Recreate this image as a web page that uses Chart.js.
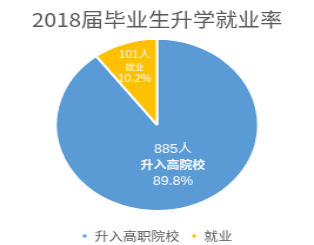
<!DOCTYPE html>
<html>
<head>
<meta charset="utf-8">
<script src="https://cdn.jsdelivr.net/npm/chart.js@4/dist/chart.umd.min.js"></script>
<style>
    html, body { margin: 0; padding: 0; background: #fff; overflow: hidden; }
    /* the source picture is stretched sideways, so the chart is drawn narrow and scaled */
    #wrap { width: 267px; height: 245px; transform: scaleX(1.176); transform-origin: 0 0; }
</style>
</head>
<body>
<div id="wrap"><canvas id="myChart"></canvas></div>
<script>
const categories = ['升入高职院校', '就业'];
const sliceNames = ['升入高院校', '就业'];
const counts = [885, 101];
const colors = ['#5B9BD5', '#FFC000'];

const total = counts.reduce(function (a, b) { return a + b; }, 0);

// label inside each slice: count, name, percent
const sliceLabels = {
    id: 'sliceLabels',
    afterDatasetsDraw: function (chart) {
        let ctx = chart.ctx;
        let meta = chart.getDatasetMeta(0);
        let dist = [0.5, 0.7];
        let sizes = [[12, 11, 12], [10, 8, 10]];
        let gap = [16, 12];
        meta.data.forEach(function (arc, i) {
            let p = arc.getProps(['x', 'y', 'startAngle', 'endAngle', 'outerRadius'], true);
            let mid = (p.startAngle + p.endAngle) / 2;
            let cx = p.x + Math.cos(mid) * p.outerRadius * dist[i];
            let cy = p.y + Math.sin(mid) * p.outerRadius * dist[i];
            let lines = [
                counts[i] + '人',
                sliceNames[i],
                (counts[i] / total * 100).toFixed(1) + '%'
            ];
            ctx.save();
            ctx.fillStyle = '#fff';
            ctx.textAlign = 'center';
            ctx.textBaseline = 'middle';
            lines.forEach(function (t, k) {
                let w = (k === 1 && i === 0) ? 'bold ' : '';
                ctx.font = w + sizes[i][k] + 'px "Liberation Sans", "Noto Sans CJK SC", sans-serif';
                ctx.fillText(t, cx, cy + (k - 1) * gap[i]);
            });
            ctx.restore();
        });
    }
};

let ctx = document.getElementById('myChart');
let myChart = new Chart(ctx, {
    type: 'pie',
    data: {
        labels: categories,
        datasets: [{
            data: counts,
            backgroundColor: colors,
            borderColor: '#ffffff',
            borderWidth: 2
        }]
    },
    plugins: [sliceLabels],
    options: {
        responsive: true,
        maintainAspectRatio: false,
        animation: false,
        layout: {padding: {top: 0, bottom: -7, left: 0, right: 0}},
        plugins: {
            title: {
                display: true,
                text: '2018届毕业生升学就业率',
                color: '#595959',
                font: {family: '"Noto Sans CJK SC", sans-serif', size: 19, weight: 'normal'},
                padding: {top: 8, bottom: 7}
            },
            legend: {
                display: true,
                position: 'bottom',
                // empty title only pushes the legend row down
                title: {display: true, text: ' ', font: {size: 5}, padding: {top: 2, bottom: 0}},
                labels: {
                    color: '#595959',
                    boxWidth: 5,
                    boxHeight: 5,
                    padding: 10,
                    font: {family: '"Noto Sans CJK SC", sans-serif', size: 12}
                }
            },
            tooltip: {enabled: false}
        }
    }
});
</script>
</body>
</html>
